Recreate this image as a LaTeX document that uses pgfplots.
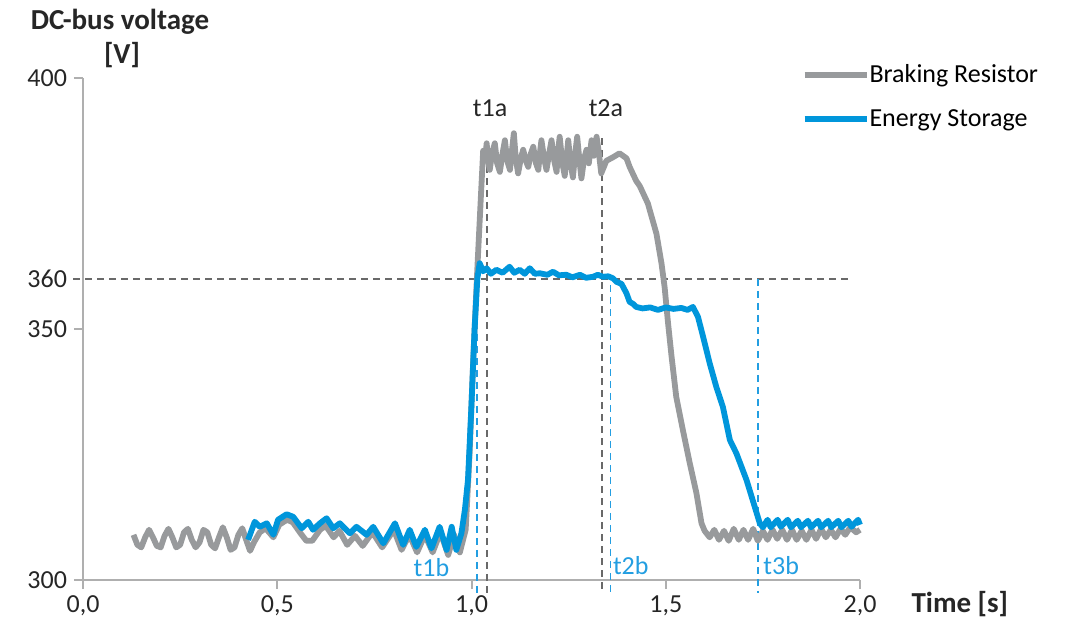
\documentclass[border=0pt]{standalone}
\usepackage{fontspec}
\setmainfont{Carlito}
\usepackage{pgfplots}
\pgfplotsset{compat=1.18}
\definecolor{brgray}{RGB}{152,154,156}
\definecolor{esblue}{RGB}{0,150,219}
\definecolor{axgray}{RGB}{175,175,175}
\definecolor{dgray}{RGB}{105,105,105}
\definecolor{dblue}{RGB}{35,158,225}
\newcommand{\fs}{\fontsize{13}{15}\selectfont}
\begin{document}
\begin{tikzpicture}
\useasboundingbox (-41.5pt,-26pt) rectangle (493.5pt,290pt);
\begin{axis}[
  at={(0,0)}, anchor=south west,
  scale only axis, width=388.5pt, height=251pt,
  xmin=0, xmax=2, ymin=300, ymax=400,
  axis lines=left,
  axis line style={draw=axgray, line width=1pt, -},
  xtick={0,0.5,1,1.5,2},
  xticklabels={{0,0},{0,5},{1,0},{1,5},{2,0}},
  ytick={300,350,400},
  extra y ticks={360},
  extra y tick style={tick style={draw=none}},
  tick style={draw=axgray, line width=1pt},
  tick align=outside, major tick length=4.5pt,
  tick label style={font=\fs, text=black!85},
  /pgf/number format/assume math mode=true,
  clip=false,
  legend style={at={(0.925,0.963)}, anchor=west, draw=none, fill=none,
    inner sep=0pt, outer sep=0pt, font=\fs, row sep=12pt,
    nodes={inner sep=0pt, outer sep=0pt}},
  legend cell align=left,
  legend image code/.code={\draw[#1] (0pt,0pt) -- (31pt,0pt);},
  every axis plot/.append style={line join=round},
]
% 360 reference line and event markers
\addplot[dgray, line width=0.9pt, dash pattern=on 3.5pt off 2.5pt, forget plot] coordinates {(-0.025,360) (1.973,360)};
\addplot[dgray, line width=0.9pt, dash pattern=on 3.5pt off 2.5pt, forget plot] coordinates {(1.040,387.3) (1.040,297.4)};
\addplot[dgray, line width=0.9pt, dash pattern=on 3.5pt off 2.5pt, forget plot] coordinates {(1.336,388.0) (1.336,297.4)};
\addplot[dblue, line width=0.9pt, dash pattern=on 3.5pt off 2.5pt, forget plot] coordinates {(1.015,361.0) (1.015,297.4)};
\addplot[dblue, line width=0.9pt, dash pattern=on 3.5pt off 2.5pt, forget plot] coordinates {(1.358,358.8) (1.358,297.4)};
\addplot[dblue, line width=0.9pt, dash pattern=on 3.5pt off 2.5pt, forget plot] coordinates {(1.737,360.0) (1.737,297.4)};

\addplot[brgray, line width=2.9pt] coordinates {
(0.130,309.0) (0.140,307.0) (0.150,306.5) (0.160,308.5) (0.170,310.0) (0.180,308.5)
(0.190,306.8) (0.200,306.5) (0.210,308.8) (0.220,310.2) (0.230,308.5) (0.240,306.5)
(0.250,307.0) (0.260,309.5) (0.270,310.2) (0.280,308.0) (0.290,306.5) (0.300,307.5)
(0.310,310.0) (0.320,309.5) (0.330,307.0) (0.340,306.3) (0.350,308.5) (0.360,310.5)
(0.370,308.5) (0.380,306.0) (0.390,306.5) (0.400,309.0) (0.410,310.3) (0.420,308.0)
(0.430,305.8) (0.440,307.5) (0.455,309.5) (0.470,310.3) (0.490,308.5) (0.505,311.0)
(0.525,312.0) (0.540,311.5) (0.560,309.3) (0.575,307.8) (0.590,307.8) (0.610,310.0)
(0.625,310.8) (0.645,308.5) (0.660,309.8) (0.680,307.0) (0.700,308.8) (0.720,306.8)
(0.745,309.5) (0.770,306.5) (0.800,310.0) (0.820,306.0) (0.840,309.0) (0.860,305.5)
(0.880,309.0) (0.900,305.5) (0.920,309.5) (0.940,305.0) (0.955,309.0) (0.970,305.5)
(0.985,310.0) (0.995,325.0) (1.005,345.0) (1.015,362.0) (1.022,373.0) (1.030,385.5)
(1.035,384.0) (1.039,387.0) (1.043,383.5) (1.047,381.7) (1.053,385.0) (1.060,387.0)
(1.066,383.0) (1.073,381.3) (1.080,385.0) (1.086,387.6) (1.092,383.5) (1.099,381.7)
(1.104,385.5) (1.109,389.0) (1.114,384.0) (1.120,381.0) (1.127,384.0) (1.133,385.7)
(1.140,383.5) (1.146,382.3) (1.153,385.0) (1.159,386.3) (1.166,383.0) (1.172,381.7)
(1.176,385.0) (1.180,387.6) (1.187,384.0) (1.193,381.7) (1.200,385.0) (1.206,387.6)
(1.213,383.5) (1.219,381.3) (1.223,385.5) (1.227,388.3) (1.234,383.0) (1.240,380.5)
(1.245,384.5) (1.249,387.6) (1.255,383.0) (1.261,380.2) (1.267,385.0) (1.272,388.3)
(1.278,383.5) (1.283,380.0) (1.290,384.0) (1.296,385.7) (1.302,383.0) (1.309,387.6)
(1.315,384.5) (1.322,388.3) (1.328,385.0) (1.334,381.0) (1.347,383.5) (1.364,384.2)
(1.381,385.0) (1.399,384.0) (1.407,382.3) (1.424,379.5) (1.433,378.5) (1.454,375.0)
(1.476,369.0) (1.489,363.1) (1.497,358.4) (1.506,351.1) (1.515,344.5) (1.527,336.5)
(1.544,329.9) (1.562,323.2) (1.579,317.3) (1.592,311.3) (1.600,309.8) (1.613,308.5)
(1.625,310.0) (1.637,308.0) (1.650,309.8) (1.662,307.8) (1.675,310.2) (1.688,308.0)
(1.700,310.0) (1.712,308.0) (1.725,310.2) (1.737,307.8) (1.750,309.8) (1.762,308.0)
(1.775,310.0) (1.787,308.2) (1.800,310.0) (1.812,308.0) (1.825,310.0) (1.837,308.0)
(1.850,309.8) (1.862,308.0) (1.875,310.0) (1.887,308.2) (1.900,310.2) (1.912,308.5)
(1.925,310.0) (1.937,308.5) (1.950,310.2) (1.962,309.0) (1.975,310.5) (1.990,309.5)
(2.000,310.0)
};
\addlegendentry{Braking Resistor}

\addplot[esblue, line width=2.9pt] coordinates {
(0.425,308.0) (0.442,311.6) (0.455,310.6) (0.473,311.3) (0.490,309.0) (0.502,312.0)
(0.524,313.1) (0.541,312.6) (0.563,310.3) (0.580,311.6) (0.592,310.0) (0.610,311.3)
(0.627,312.3) (0.644,310.3) (0.661,311.3) (0.687,309.3) (0.704,310.6) (0.730,309.0)
(0.747,310.6) (0.773,307.3) (0.803,311.3) (0.824,307.0) (0.841,310.0) (0.858,306.6)
(0.880,310.0) (0.897,306.3) (0.918,310.6) (0.936,306.0) (0.949,310.6) (0.961,306.0)
(0.974,309.3) (0.983,314.0) (0.991,320.0) (1.000,335.0) (1.008,350.0) (1.015,360.0)
(1.021,363.1) (1.030,361.5) (1.039,362.1) (1.050,361.0) (1.064,361.8) (1.080,361.2)
(1.098,362.4) (1.110,361.2) (1.124,361.8) (1.137,361.0) (1.150,362.1) (1.163,361.0)
(1.176,361.1) (1.195,360.8) (1.210,361.4) (1.225,360.7) (1.244,360.8) (1.260,360.3)
(1.279,360.8) (1.295,360.2) (1.313,360.4) (1.325,360.8) (1.339,360.4) (1.352,360.5)
(1.364,360.1) (1.373,359.4) (1.386,359.0) (1.399,357.1) (1.407,355.4) (1.416,355.0)
(1.424,354.4) (1.440,354.1) (1.460,354.3) (1.480,353.8) (1.500,354.3) (1.520,354.0)
(1.540,354.2) (1.556,353.8) (1.570,354.4) (1.583,352.4) (1.596,348.5) (1.613,343.2)
(1.630,338.5) (1.647,334.5) (1.665,327.9) (1.682,325.2) (1.708,319.9) (1.729,314.6)
(1.742,311.3) (1.750,310.5) (1.762,312.0) (1.770,310.5) (1.788,312.0) (1.796,310.6)
(1.814,312.0) (1.822,310.5) (1.840,311.8) (1.848,310.5) (1.866,311.8) (1.874,310.5)
(1.892,311.8) (1.900,310.5) (1.918,311.8) (1.926,310.5) (1.944,311.8) (1.952,310.5)
(1.970,311.8) (1.978,310.6) (1.995,312.0) (2.000,311.0)
};
\addlegendentry{Energy Storage}

\node[font=\fontsize{14.5}{16}\selectfont\bfseries, text=black!85] at (axis cs:0.0952,411.2) {DC-bus voltage};
\node[font=\fontsize{14.5}{16}\selectfont\bfseries, text=black!85] at (axis cs:0.1004,404.6) {[V]};
\node[font=\fontsize{14.5}{16}\selectfont\bfseries, text=black!85] at (axis cs:2.257,295.2) {Time [s]};
\node[font=\fs, text=black!85] at (axis cs:1.048,394.0) {t1a};
\node[font=\fs, text=black!85] at (axis cs:1.346,394.0) {t2a};
\node[font=\fs, text=dblue] at (axis cs:0.897,302.4) {t1b};
\node[font=\fs, text=dblue] at (axis cs:1.410,302.8) {t2b};
\node[font=\fs, text=dblue] at (axis cs:1.797,302.8) {t3b};
\end{axis}
\end{tikzpicture}
\end{document}
